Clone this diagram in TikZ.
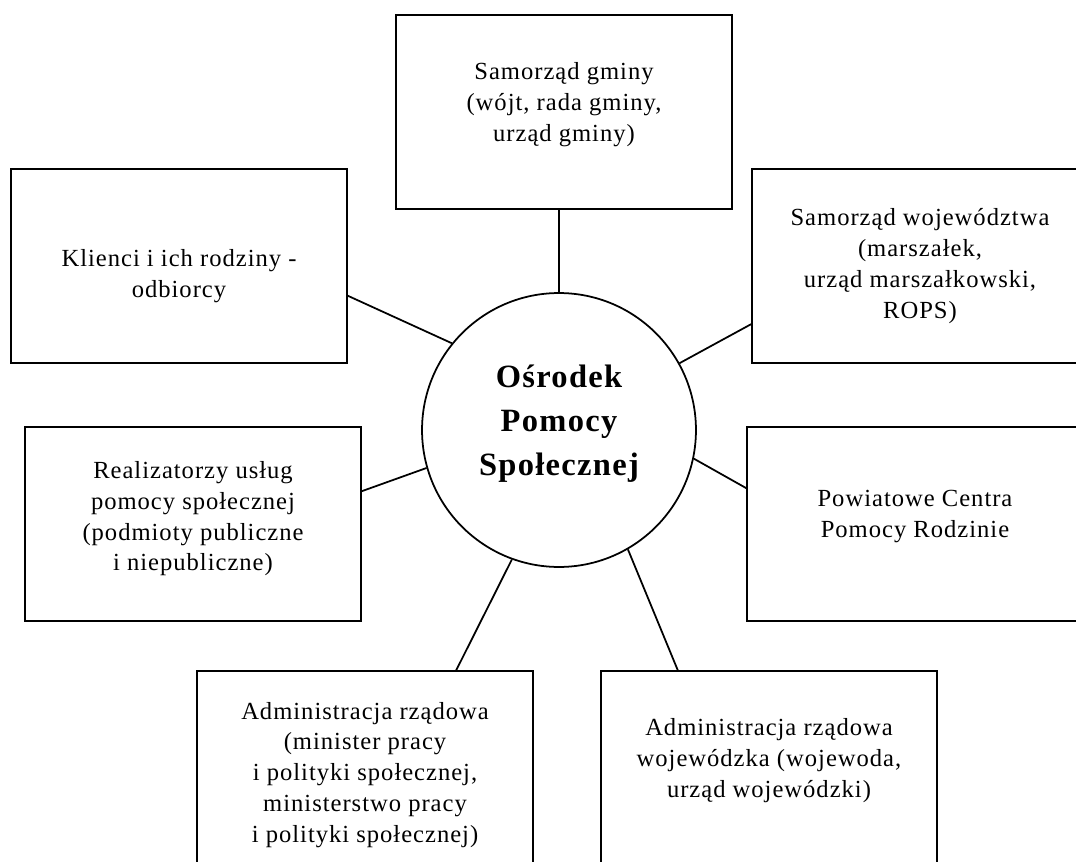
\documentclass[tikz,border=0pt]{standalone}
\usepackage{fontspec}
\setmainfont{Liberation Serif}[LetterSpace=4]

\tikzset{
   unit/.style={draw, line width=1pt, minimum width=6.72cm, minimum height=3.88cm,
      inner sep=0pt, align=center, font=\fontsize{14}{17.5}\selectfont},
   hub/.style={draw, circle, line width=1pt, minimum size=5.48cm, inner sep=0pt,
      align=center, font=\fontsize{18.5}{25}\selectfont\bfseries},
   link/.style={line width=1pt}
}

\begin{document}
\begin{tikzpicture}[x=0.02cm, y=-0.02cm]
   \useasboundingbox (0,0) rectangle (1076,862);
   \clip (0,0) rectangle (1076,862);
   % centre
   \node[hub] (osrodek) at (559,430) {Ośrodek\\Pomocy\\Społecznej\\[-0.48cm]};
   % boxes round it
   \node[unit] (gmina) at (564,112) {Samorząd gminy\\(wójt, rada gminy,\\urząd gminy)\\[-0.22cm]};
   \node[unit] (klienci) at (179,266) {\mbox{}\\[0.14cm]Klienci i ich rodziny -\\odbiorcy};
   \node[unit] (wojewodztwo) at (920,266) {Samorząd województwa\\(marszałek,\\urząd marszałkowski,\\ROPS)};
   \node[unit] (realizatorzy) at (193,524) {Realizatorzy usług\\pomocy społecznej\\(podmioty publiczne\\i niepubliczne)\\[-0.3cm]};
   \node[unit] (powiatowe) at (915,524) {Powiatowe Centra\\Pomocy Rodzinie\\[-0.22cm]};
   \node[unit] (rzad) at (365,768) {\mbox{}\\[0cm]Administracja rządowa\\(minister pracy\\i polityki społecznej,\\ministerstwo pracy\\i polityki społecznej)};
   \node[unit] (wojewodzka) at (769,768) {Administracja rządowa\\wojewódzka (wojewoda,\\urząd wojewódzki)\\[-0.22cm]};
   % spokes
   \draw[link] (osrodek.north) -- (osrodek.north |- gmina.south);
   \draw[link] (klienci.-10) -- (osrodek.141);
   \draw[link] (wojewodztwo.199) -- (osrodek.29);
   \draw[link] (realizatorzy.11) -- (osrodek.196);
   \draw[link] (powiatowe.168) -- (osrodek.-12);
   \draw[link] (rzad.47) -- (osrodek.-110);
   \draw[link] (wojewodzka.133) -- (osrodek.-60);
\end{tikzpicture}
\end{document}
